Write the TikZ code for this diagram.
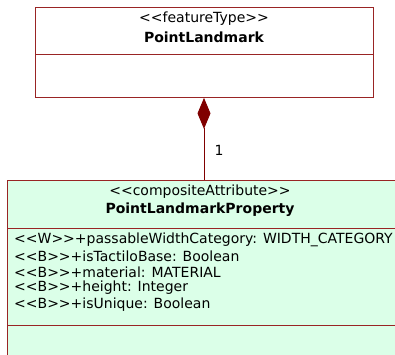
\documentclass[tikz,border=0pt]{standalone}
\usepackage{fontspec}
\setmainfont{DejaVu Sans}[Ligatures=TeXOff]
\usetikzlibrary{arrows.meta}

\begin{document}
\begin{tikzpicture}[x=1bp,y=1bp]
    \definecolor{umlred}{rgb}{0.6, 0.14, 0.14}
    \definecolor{umldark}{rgb}{0.5, 0, 0}
    \definecolor{umlgreen}{rgb}{0.86, 1, 0.91}
    \tikzset{classbox/.style={draw=umlred,line width=0.9bp,inner sep=0,anchor=north west},
             txt/.style={inner sep=0,font=\fontsize{14bp}{16bp}\selectfont}}
    \useasboundingbox (0,0) rectangle (395,355);
    % feature type
    \node[classbox,fill=white,minimum width=338bp,minimum height=90bp] (landmark) at (35,348) {};
    \draw[umlred,line width=0.9bp] (35,301) -- (373,301);
    \node[txt] (landmark_st) at (204,336) {<<featureType>>};
    \node[txt,font=\fontsize{14bp}{16bp}\selectfont\bfseries] (landmark_name) at (204,318) {PointLandmark};
    
    % composite attribute
    \node[classbox,fill=umlgreen,minimum width=400bp,minimum height=190bp] (prop) at (7,175) {};
    \draw[umlred,line width=0.9bp] (7,127) -- (400,127);
    \draw[umlred,line width=0.9bp] (7,30) -- (400,30);
    \node[txt] (prop_st) at (200,163) {<<compositeAttribute>>};
    \node[txt,font=\fontsize{14bp}{16bp}\selectfont\bfseries] (prop_name) at (200,145) {PointLandmarkProperty};
    \node[txt,anchor=west] (attr_1) at (14,115) {<<W>>+passableWidthCategory: WIDTH\_CATEGORY};
    \node[txt,anchor=west] (attr_2) at (14,99) {<<B>>+isTactiloBase: Boolean};
    \node[txt,anchor=west] (attr_3) at (14,83) {<<B>>+material: MATERIAL};
    \node[txt,anchor=west] (attr_4) at (14,67) {<<B>>+height: Integer};
    \node[txt,anchor=west] (attr_5) at (14,50) {<<B>>+isUnique: Boolean};
    
    % composition
    \draw[umldark,line width=0.9bp,-{Diamond[length=31bp,width=13bp,fill=umldark]}] (prop.north -| 204,0) -- (landmark.south -| 204,0);
    \node[txt] (mult) at (219,205) {1};

\end{tikzpicture}
\end{document}
